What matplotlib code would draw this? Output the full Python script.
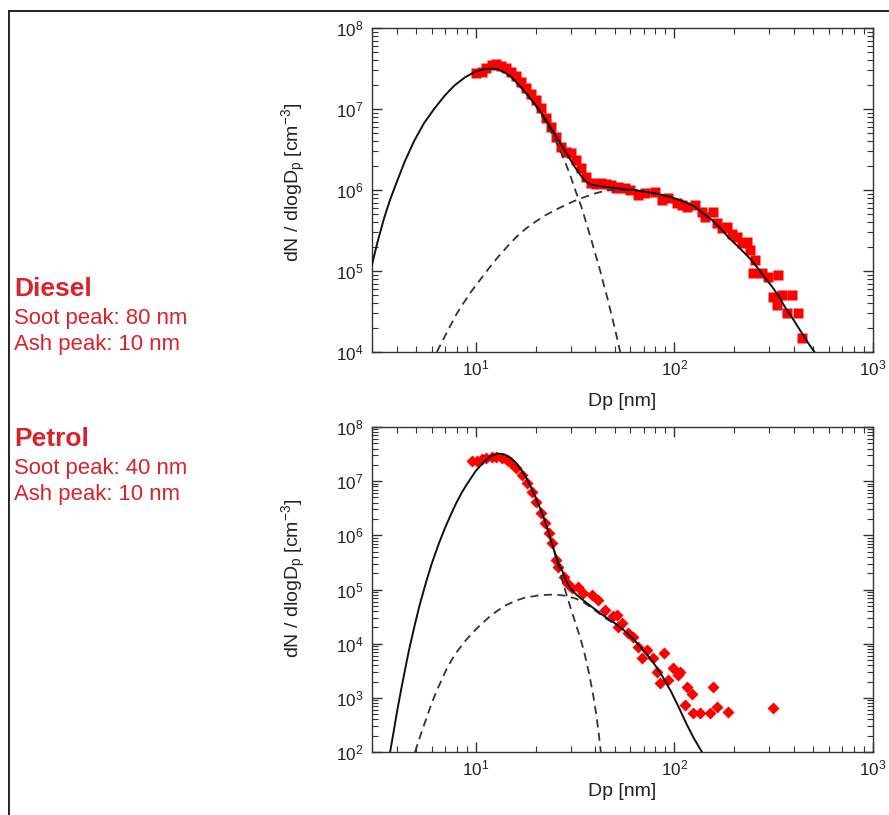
import matplotlib
matplotlib.use("Agg")
import matplotlib.pyplot as plt
from matplotlib.lines import Line2D
from matplotlib.ticker import LogLocator, NullFormatter, FixedLocator

plt.rcParams['font.family'] = ['Liberation Sans', 'DejaVu Sans']
plt.rcParams['mathtext.fontset'] = 'custom'
plt.rcParams['mathtext.rm'] = 'Liberation Sans'
plt.rcParams['mathtext.it'] = 'Liberation Sans:italic'
plt.rcParams['mathtext.bf'] = 'Liberation Sans:bold'

RED_TEXT = '#d9222a'
RED_PTS = '#ff0000'

# tick decades
x_decades = [10, 100, 1000]
diesel_y_decades = [1e4, 1e5, 1e6, 1e7, 1e8]
petrol_y_decades = [1e2, 1e3, 1e4, 1e5, 1e6, 1e7, 1e8]

# DIESEL - measured points
diesel_dp = [10.0, 10.7, 11.3, 12.0, 12.7, 13.4, 14.2, 15.1, 16.0, 16.9, 17.9, 19.0, 20.1,
             21.4, 22.6, 24.0, 25.4, 26.9, 28.5, 30.2, 32.0, 34.0, 36.0, 38.1, 40.4, 42.8,
             45.4, 48.1, 50.9, 52.1, 56.4, 59.7, 65.8, 71.1, 79.8, 86.3, 93.1, 102.6, 108.7,
             115.2, 126.8, 137.1, 142.5, 157.0, 163.0, 172.8, 183.2, 194.1, 205.6, 217.8,
             231.2, 239.9, 254.5, 249.5, 274.9, 297.2, 333.4, 314.8, 346.7, 389.0, 327.3,
             367.3, 420.7, 436.5]
diesel_dn = [2.75e7, 2.89e7, 3.18e7, 3.49e7, 3.56e7, 3.43e7, 3.18e7, 2.89e7, 2.55e7, 2.18e7,
             1.80e7, 1.53e7, 1.29e7, 1.02e7, 7.67e6, 6.05e6, 4.56e6, 3.43e6, 2.97e6, 2.84e6,
             2.34e6, 1.85e6, 1.46e6, 1.21e6, 1.19e6, 1.21e6, 1.19e6, 1.15e6, 1.05e6, 1.10e6,
             1.05e6, 1.0e6, 8.7e5, 9.1e5, 9.5e5, 7.5e5, 7.9e5, 6.9e5, 6.5e5, 6.2e5, 6.5e5,
             5.4e5, 4.7e5, 5.4e5, 3.9e5, 3.4e5, 3.5e5, 2.9e5, 2.65e5, 2.2e5, 2.3e5, 1.8e5,
             1.37e5, 9.4e4, 9.4e4, 8.5e4, 8.9e4, 4.8e4, 5.1e4, 5.1e4, 3.8e4, 3.0e4, 3.0e4,
             1.5e4]

# DIESEL - total fit
diesel_fit_dp = [3.0, 3.2, 3.45, 3.7, 4.0, 4.4, 4.9, 5.5, 6.2, 7.0, 7.8, 8.8, 9.9, 11.0,
                 12.0, 13.0, 14.0, 15.0, 16.0, 17.0, 18.5, 20.0, 21.5, 23.0, 24.5, 26.0, 27.5,
                 29.0, 30.5, 32.0, 33.5, 35.0, 36.5, 38.0, 40.0, 43.0, 46.0, 50.0, 56.0, 63.0,
                 71.0, 80.0, 90.0, 100, 113, 127, 140, 154, 170, 187, 205, 226, 245, 264, 285,
                 309, 335, 360, 390, 421, 450, 472, 510]
diesel_fit_dn = [1.20e5, 2.29e5, 4.47e5, 7.59e5, 1.26e6, 2.29e6, 4.07e6, 6.76e6, 1.02e7,
                 1.48e7, 1.95e7, 2.45e7, 2.88e7, 3.09e7, 3.16e7, 3.09e7, 2.82e7, 2.51e7,
                 2.14e7, 1.82e7, 1.41e7, 1.12e7, 8.71e6, 6.76e6, 5.25e6, 4.17e6, 3.31e6,
                 2.69e6, 2.19e6, 1.82e6, 1.55e6, 1.35e6, 1.23e6, 1.17e6, 1.14e6, 1.11e6,
                 1.08e6, 1.06e6, 1.02e6, 1.0e6, 9.5e5, 9.1e5, 8.5e5, 7.9e5, 7.1e5, 6.2e5,
                 5.1e5, 4.3e5, 3.4e5, 2.6e5, 2.1e5, 1.66e5, 1.35e5, 1.07e5, 8.3e4, 6.5e4,
                 4.9e4, 3.6e4, 2.7e4, 2.0e4, 1.55e4, 1.29e4, 9.8e3]

# DIESEL - ash mode (dashed)
diesel_ash_dp = [16.0, 18.0, 20.0, 22.0, 24.0, 26.0, 28.0, 30.0, 32.0, 34.0, 36.0, 38.0, 40.0,
                 42.0, 44.0, 46.0, 48.0, 50.0, 52.0, 53.3]
diesel_ash_dn = [2.09e7, 1.58e7, 1.10e7, 7.59e6, 5.13e6, 3.47e6, 2.29e6, 1.48e6, 9.3e5,
                 6.2e5, 3.9e5, 2.5e5, 1.62e5, 1.07e5, 6.9e4, 4.6e4, 3.0e4, 2.0e4, 1.32e4,
                 1.0e4]

# DIESEL - soot mode (dashed)
diesel_soot_dp = [6.36, 7.0, 7.5, 8.0, 8.7, 9.5, 10.5, 11.7, 13.0, 14.5, 16.0, 18.0, 20.0,
                  22.5, 25.0, 28.0, 31.0, 35.0, 40.0, 45.0, 50.0, 56.0, 63.0, 71.0, 80.0,
                  90.0, 100]
diesel_soot_dn = [1.0e4, 1.58e4, 2.19e4, 2.95e4, 4.07e4, 5.62e4, 7.76e4, 1.10e5, 1.51e5,
                  2.04e5, 2.63e5, 3.39e5, 4.07e5, 4.90e5, 5.62e5, 6.46e5, 7.24e5, 8.13e5,
                  9.1e5, 9.8e5, 1.0e6, 1.0e6, 1.0e6, 9.5e5, 9.1e5, 8.5e5, 7.9e5]

# PETROL - measured points
petrol_dp = [9.53, 10.1, 10.7, 11.3, 12.0, 12.7, 13.5, 14.3, 15.1, 16.0, 17.0, 18.0, 19.1,
             20.2, 21.3, 22.3, 23.4, 24.1, 25.2, 26.0, 27.9, 28.7, 30.4, 32.8, 34.8, 38.3,
             41.4, 44.7, 49.2, 52.1, 51.2, 54.2, 58.6, 62.1, 65.8, 72.5, 68.4, 78.3, 81.3,
             84.5, 88.9, 93.1, 98.6, 104.5, 106.6, 115.2, 122.1, 113.0, 124.5, 134.5, 151.0,
             157.0, 163.3, 186.6, 314.8]
petrol_dn = [2.39e7, 2.39e7, 2.53e7, 2.64e7, 2.75e7, 2.75e7, 2.64e7, 2.46e7, 2.13e7, 1.73e7,
             1.30e7, 9.1e6, 6.4e6, 4.19e6, 2.55e6, 1.67e6, 1.09e6, 7.1e5, 3.5e5, 2.64e5,
             1.73e5, 1.30e5, 1.05e5, 1.13e5, 8.5e4, 7.9e4, 6.4e4, 4.2e4, 3.2e4, 2.06e4,
             3.4e4, 2.4e4, 1.55e4, 1.35e4, 8.8e3, 7.6e3, 5.4e3, 5.4e3, 3.0e3, 1.85e3, 6.6e3,
             2.13e3, 3.5e3, 2.6e3, 3.0e3, 1.6e3, 1.2e3, 740, 520, 520, 520, 1.6e3, 690, 555,
             640]

# PETROL - total fit
petrol_fit_dp = [3.70, 3.85, 4.00, 4.20, 4.40, 4.60, 4.90, 5.20, 5.60, 6.00, 6.50, 7.00,
                 7.50, 8.00, 8.50, 9.00, 9.50, 10.0, 11.0, 12.0, 13.0, 14.0, 15.0, 16.0, 17.0,
                 18.0, 19.0, 20.0, 21.0, 22.0, 23.0, 24.0, 25.0, 26.0, 27.0, 28.0, 29.0, 30.0,
                 32.0, 35.0, 38.0, 41.0, 45.0, 50.0, 56.0, 63.0, 70.0, 78.0, 87.0, 96.0, 105,
                 115, 125, 138]
petrol_fit_dn = [100, 229, 525, 1.38e3, 3.31e3, 7.41e3, 2.04e4, 5.01e4, 1.32e5, 3.02e5,
                 6.92e5, 1.38e6, 2.45e6, 4.07e6, 6.17e6, 8.71e6, 1.17e7, 1.55e7, 2.29e7,
                 2.95e7, 3.24e7, 3.09e7, 2.69e7, 2.14e7, 1.58e7, 1.12e7, 7.59e6, 5.01e6,
                 3.24e6, 2.09e6, 1.29e6, 7.76e5, 4.79e5, 3.09e5, 2.40e5, 1.70e5, 1.26e5,
                 1.05e5, 8.1e4, 6.2e4, 4.9e4, 4.0e4, 3.1e4, 2.4e4, 1.74e4, 1.15e4, 7.4e3,
                 4.6e3, 2.5e3, 1.32e3, 676, 331, 182, 98]

# PETROL - ash mode (dashed)
petrol_ash_dp = [20.0, 21.0, 22.0, 23.0, 24.0, 25.0, 26.0, 27.0, 28.0, 29.0, 30.0, 31.0, 32.0,
                 33.4, 35.0, 36.1, 37.5, 39.1, 40.3, 41.4, 42.0, 42.6]
petrol_ash_dn = [4.9e6, 3.24e6, 2.04e6, 1.26e6, 7.59e5, 4.57e5, 2.69e5, 1.66e5, 1.05e5,
                 6.9e4, 4.57e4, 3.16e4, 2.19e4, 1.35e4, 7.4e3, 4.57e3, 2.4e3, 1.05e3, 525,
                 251, 158, 100]

# PETROL - soot mode (dashed)
petrol_soot_dp = [4.94, 5.2, 5.45, 5.7, 5.99, 6.35, 6.73, 7.1, 7.55, 8.1, 8.81, 9.5, 10.3,
                  11.1, 12.0, 13.0, 14.0, 15.2, 16.4, 17.7, 19.1, 20.6, 22.3, 24.1, 26.0, 27.6,
                  29.2, 32.0, 35.0, 38.0, 41.0, 45.0, 50.0]
petrol_soot_dn = [100, 178, 295, 468, 794, 1.35e3, 2.14e3, 3.31e3, 5.01e3, 7.41e3, 1.10e4,
                  1.51e4, 2.04e4, 2.63e4, 3.39e4, 4.17e4, 5.01e4, 5.75e4, 6.46e4, 7.08e4,
                  7.41e4, 7.76e4, 7.94e4, 8.04e4, 7.94e4, 7.76e4, 7.41e4, 6.76e4, 5.75e4,
                  4.68e4, 3.8e4, 2.95e4, 2.3e4]

# FIGURE
fig = plt.figure(figsize=(8.89, 8.15), dpi=100)
W, H = 889, 815


def px_axes(left, top, right, bottom):
    return fig.add_axes([left / W, 1 - bottom / H, (right - left) / W, (bottom - top) / H])


def style(ax, y_decades):
    ax.set_xscale('log')
    ax.set_yscale('log')
    ax.set_xlim(3, 1000)
    ax.set_ylim(y_decades[0], y_decades[-1])
    ax.xaxis.set_major_locator(FixedLocator(x_decades))
    ax.xaxis.set_minor_locator(LogLocator(base=10, subs=range(2, 10), numticks=20))
    ax.xaxis.set_minor_formatter(NullFormatter())
    ax.yaxis.set_major_locator(FixedLocator(y_decades))
    ax.yaxis.set_minor_locator(LogLocator(base=10, subs=range(2, 10), numticks=20))
    ax.yaxis.set_minor_formatter(NullFormatter())
    ax.tick_params(which='both', direction='in', top=True, right=True, color='#333333')
    ax.tick_params(which='major', length=7, width=1.0, labelsize=12.3, labelcolor='#222222')
    ax.tick_params(axis='y', which='major', pad=6)
    ax.tick_params(axis='x', which='major', pad=5)
    ax.tick_params(which='minor', length=4, width=0.8)
    for s in ax.spines.values():
        s.set_linewidth(1.0)
        s.set_color('#333333')


def draw(ax, dp, dn, marker, ms, fit_dp, fit_dn, a_dp, a_dn, s_dp, s_dn):
    ax.plot(dp, dn, linestyle='none', marker=marker, ms=ms, color=RED_PTS, mec='none', zorder=2)
    ax.plot(a_dp, a_dn, color='#333333', lw=1.3, ls=(0, (4.5, 3)), zorder=3)
    ax.plot(s_dp, s_dn, color='#333333', lw=1.3, ls=(0, (4.5, 3)), zorder=3)
    ax.plot(fit_dp, fit_dn, color='#111111', lw=1.4, zorder=4)


ax1 = px_axes(372, 28, 873, 352)
style(ax1, diesel_y_decades)
draw(ax1, diesel_dp, diesel_dn, 's', 7.5, diesel_fit_dp, diesel_fit_dn,
     diesel_ash_dp, diesel_ash_dn, diesel_soot_dp, diesel_soot_dn)

ax2 = px_axes(372, 427, 873, 752)
style(ax2, petrol_y_decades)
draw(ax2, petrol_dp, petrol_dn, 'D', 6.3, petrol_fit_dp, petrol_fit_dn,
     petrol_ash_dp, petrol_ash_dn, petrol_soot_dp, petrol_soot_dn)

ylab = r'dN / dlogD$_{\mathregular{p}}$ [cm$^{\mathregular{-3}}$]'
for ax, ly, lx in [(ax1, 0.525, -0.127), (ax2, 0.535, -0.095)]:
    ax.set_xlabel('Dp [nm]', fontsize=14, color='#222222')
    ax.set_ylabel(ylab, fontsize=14, color='#222222')
    ax.yaxis.set_label_coords(-0.128, ly)
    ax.xaxis.set_label_coords(0.5, lx)

# left notes
notes = [
    ('Diesel', 296, True),
    ('Soot peak: 80 nm', 324, False),
    ('Ash peak: 10 nm', 350, False),
    ('Petrol', 446, True),
    ('Soot peak: 40 nm', 474, False),
    ('Ash peak: 10 nm', 500, False),
]
for txt, y, bold in notes:
    fig.text(14 / W, 1 - y / H, txt, color=RED_TEXT, va='baseline', ha='left',
             fontsize=19 if bold else 15.9, fontweight='bold' if bold else 'normal')

# outer frame
fx, fy = 8.5 / W, 1 - 10.5 / H
fig.add_artist(Line2D([fx, fx], [0, fy], color='#222222', lw=1.4, transform=fig.transFigure))
fig.add_artist(Line2D([fx, 1], [fy, fy], color='#222222', lw=1.4, transform=fig.transFigure))

fig.savefig('out.png', dpi=100)
